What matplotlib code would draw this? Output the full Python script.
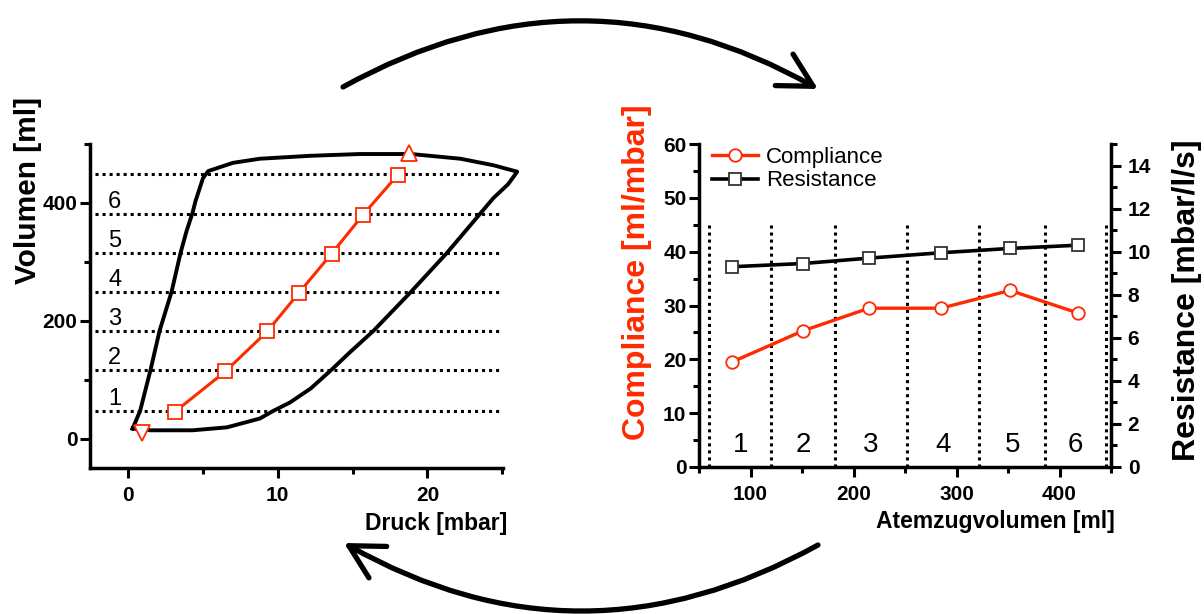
import matplotlib
matplotlib.use("Agg")
import matplotlib.pyplot as plt
from matplotlib.patches import FancyArrowPatch
from matplotlib.ticker import MultipleLocator

plt.rcParams.update({
    "font.family": "Liberation Sans",
    "font.weight": "bold",
    "axes.labelweight": "bold",
    "axes.linewidth": 2.5,
})

RED = "#ff2a00"

# ---- left panel: pressure-volume loop --------------------------------------
loop_p = [0.3, 0.8, 1.5, 2.1, 2.9, 3.5, 3.9, 4.3, 4.5, 5.0, 5.35, 7.0, 8.8,
          12.2, 15.5, 18.9, 22.2, 24.4, 26.0, 25.4, 24.4, 23.5, 21.3, 18.9,
          16.4, 14.8, 13.6, 12.2, 10.8, 9.7, 8.8, 6.6, 4.3, 1.5, 0.3]
loop_v = [17, 47, 117, 183, 249, 315, 352, 383, 403, 442, 454, 468, 475,
          480, 483, 483, 475, 464, 453, 432, 408, 381, 315, 249,
          183, 146, 117, 85, 61, 47, 34, 19, 14, 14, 17]

step_p = [3.1, 6.5, 9.3, 11.4, 13.6, 15.7, 18.0]
step_v = [45, 114, 182, 247, 314, 380, 447]
end_insp = (18.8, 485)
end_exp = (0.9, 10)
level_v = [47, 117, 183, 249, 315, 381, 449]
level_names = ["1", "2", "3", "4", "5", "6"]

# ---- right panel: compliance / resistance per volume step -----------------
tidal_ml = [82, 151, 215, 285, 352, 418]
compliance = [19.5, 25.3, 29.5, 29.5, 32.8, 28.6]
resistance = [9.3, 9.45, 9.7, 9.95, 10.15, 10.3]
step_edges = [60, 120, 182, 252, 322, 386, 445]

fig = plt.figure(figsize=(12.04, 6.14), dpi=100)


def style_ticks(ax):
    ax.tick_params(which="major", length=7, width=2.2, labelsize=15, pad=2)
    ax.tick_params(which="minor", length=4.5, width=2.2)


# left: P-V loop
ax1 = fig.add_axes([90 / 1204, 1 - 468 / 614, 413 / 1204, 324 / 614])
ax1.hlines(level_v, -2.2, 25.1, colors="k", linestyles=(0, (1, 1.3)), lw=2.2)
ax1.plot(loop_p, loop_v, color="k", lw=2.8, clip_on=False,
         solid_joinstyle="round")
ax1.plot(step_p, step_v, "-s", color=RED, lw=2.2, ms=10, mfc="white",
         mec=RED, mew=1.3, zorder=4)
ax1.plot(*end_insp, "^", ms=12, mfc="white", mec=RED, mew=1.3,
         clip_on=False, zorder=5)
ax1.plot(*end_exp, "v", ms=12, mfc="white", mec=RED, mew=1.3,
         clip_on=False, zorder=5)
for name, lo in zip(level_names, level_v):
    ax1.text(-0.9, lo + 10, name, ha="center", va="baseline",
             fontsize=17, fontweight="normal")

ax1.set_xlim(-2.55, 25.05)
ax1.set_ylim(-50, 500)
ax1.xaxis.set_major_locator(MultipleLocator(10))
ax1.xaxis.set_minor_locator(MultipleLocator(5))
ax1.yaxis.set_major_locator(MultipleLocator(200))
ax1.yaxis.set_minor_locator(MultipleLocator(100))
ax1.spines[["top", "right"]].set_visible(False)
style_ticks(ax1)
ax1.tick_params(axis="x", pad=6)

ax1.set_xlabel("Druck [mbar]", fontsize=16.5, ha="right", va="center")
ax1.xaxis.set_label_coords(1.01, -0.17)
ax1.set_ylabel("Volumen [ml]", fontsize=21.5, ha="center", va="center")
ax1.yaxis.set_label_coords(-0.150, 0.858)

# right: compliance and resistance
ax2 = fig.add_axes([699 / 1204, 1 - 467 / 614, 412 / 1204, 323 / 614])
ax3 = ax2.twinx()

ax2.vlines(step_edges, 0, 45, colors="k", linestyles=(0, (1, 1.3)), lw=2.2)
h_c, = ax2.plot(tidal_ml, compliance, "-o", color=RED, lw=2.4, ms=9,
                mfc="white", mec=RED, mew=1.3, label="Compliance")
h_r, = ax3.plot(tidal_ml, resistance, "-s", color="k", lw=2.6, ms=9,
                mfc="white", mec="#333333", mew=1.3, label="Resistance")

for i, name in enumerate(level_names):
    mid = (step_edges[i] + step_edges[i + 1]) / 2
    ax2.text(mid, 2.8, name, ha="center", va="baseline", fontsize=20,
             fontweight="normal")

ax2.set_xlim(50, 450)
ax2.set_ylim(0, 60)
ax3.set_ylim(0, 15)
ax2.xaxis.set_major_locator(MultipleLocator(100))
ax2.xaxis.set_minor_locator(MultipleLocator(50))
ax2.yaxis.set_major_locator(MultipleLocator(10))
ax2.yaxis.set_minor_locator(MultipleLocator(5))
ax3.yaxis.set_major_locator(MultipleLocator(2))
ax3.yaxis.set_minor_locator(MultipleLocator(1))
ax2.spines[["top", "right"]].set_visible(False)
ax3.spines[["top", "left", "bottom"]].set_visible(False)
style_ticks(ax2)
style_ticks(ax3)
ax2.tick_params(axis="x", pad=6)
ax3.tick_params(axis="y", pad=5)

ax2.set_xlabel("Atemzugvolumen [ml]", fontsize=16.5, ha="right", va="center")
ax2.xaxis.set_label_coords(1.01, -0.17)
ax2.set_ylabel("Compliance [ml/mbar]", fontsize=23, color=RED,
               ha="center", va="center")
ax2.yaxis.set_label_coords(-0.150, 0.604)
ax3.set_ylabel("Resistance [mbar/l/s]", fontsize=23, rotation=90,
               ha="center", va="center")
ax3.yaxis.set_label_coords(1.184, 0.517)

ax3.legend([h_c, h_r], ["Compliance", "Resistance"], loc="upper left",
           bbox_to_anchor=(0.032, 0.99), frameon=False, handlelength=2.05,
           handletextpad=0.36, labelspacing=0.1, borderpad=0,
           borderaxespad=0, prop={"size": 16, "weight": "normal"})


# curved arrows linking the two panels
def curved_arrow(start, end):
    to_fig = lambda p: (p[0] / 1204, 1 - p[1] / 614)
    arrow = FancyArrowPatch(to_fig(start), to_fig(end),
                            transform=fig.transFigure,
                            connectionstyle="arc3,rad=-0.28",
                            arrowstyle="->,head_length=2.4,head_width=1.3",
                            mutation_scale=10, lw=3.8, color="k",
                            shrinkA=0, shrinkB=0, capstyle="round")
    fig.add_artist(arrow)


curved_arrow((343, 87), (818, 89))
curved_arrow((818, 545), (344, 543))

fig.savefig("out.png", dpi=100)
